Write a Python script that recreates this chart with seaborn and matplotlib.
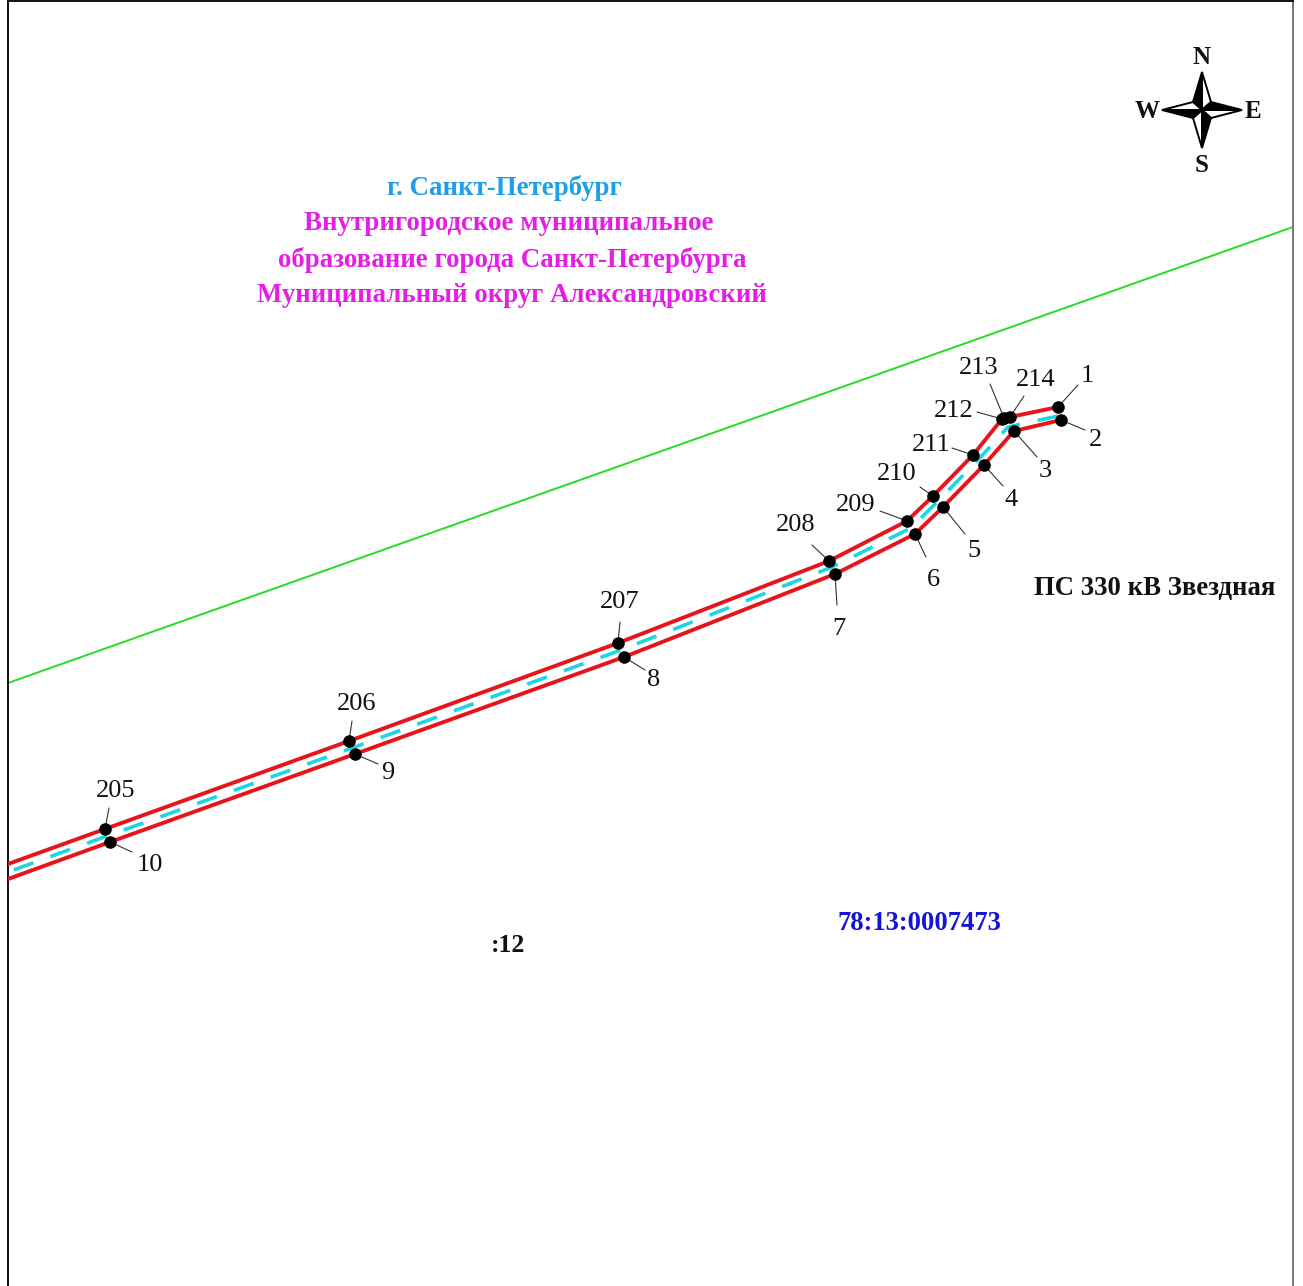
import matplotlib
matplotlib.use("Agg")
import matplotlib.pyplot as plt
import pandas as pd
import seaborn as sns

# ==========================================================
# DATA (picture coordinates, y grows downward)
# ==========================================================
lower_x = [1061, 1014, 984, 943, 915, 835, 624, 355, 110, 8]
lower_y = [420, 431, 465, 507, 534, 574, 657, 754, 842, 879]

upper_x = [1058, 1010, 1004, 1002, 973, 933, 907, 829, 618, 349, 105, 8]
upper_y = [407, 417, 418, 419, 455, 496, 521, 561, 643, 741, 829, 864]

axis_x = [1058, 1008, 978, 938, 911, 832, 621, 352, 107, 8]
axis_y = [416, 427, 460, 501, 528, 567, 650, 748, 836, 872]

boundary_x = [8, 1293]
boundary_y = [683, 227]

label_names = ["1", "2", "3", "4", "5", "6", "7", "8", "9", "10",
               "205", "206", "207", "208", "209", "210", "211", "212", "213", "214"]
label_x = [1087, 1096, 1045, 1011, 974, 933, 839, 654, 388, 150,
           116, 357, 620, 796, 856, 897, 931, 954, 979, 1036]
label_y = [376, 440, 471, 500, 551, 580, 629, 680, 773, 865,
           791, 704, 602, 525, 505, 474, 445, 411, 368, 380]
leader_x = [1078, 1085, 1037, 1003, 965, 926, 837, 645, 378, 132,
            109, 352, 620, 812, 880, 920, 952, 977, 990, 1024]
leader_y = [385, 430, 457, 486, 534, 557, 605, 670, 764, 852,
            808, 721, 622, 545, 511, 487, 448, 412, 384, 396]
point_x = [1058, 1061, 1014, 984, 943, 915, 835, 624, 355, 110,
           105, 349, 618, 829, 907, 933, 973, 1002, 1004, 1010]
point_y = [407, 420, 431, 465, 507, 534, 574, 657, 754, 842,
           829, 741, 643, 561, 521, 496, 455, 419, 418, 417]

# compass arms as (tip, inner corner) pairs around the centre
compass_center = (1202, 110)
arm_tips = [(1202, 72), (1242, 110), (1202, 148), (1162, 110)]
arm_left = [(1193, 102), (1211, 102), (1211, 118), (1193, 118)]
arm_right = [(1211, 102), (1211, 118), (1193, 118), (1193, 102)]

PINK = "#E41FE4"
RED = "#E8141C"
CYAN = "#1FD6E0"
GREEN = "#28DD22"

# ==========================================================
# FIGURE
# ==========================================================
sns.set_style("white")
plt.rcParams["font.family"] = ["Liberation Serif", "DejaVu Serif"]

fig = plt.figure(figsize=(13.03, 12.86), dpi=100)
ax = fig.add_axes([8 / 1303, 0, 1285 / 1303, 1285 / 1286])

lines = pd.DataFrame({"x": lower_x, "y": lower_y})
sns.lineplot(data=lines, x="x", y="y", sort=False, estimator=None, color=RED, lw=2.8, ax=ax, zorder=3)
lines = pd.DataFrame({"x": upper_x, "y": upper_y})
sns.lineplot(data=lines, x="x", y="y", sort=False, estimator=None, color=RED, lw=2.8, ax=ax, zorder=3)
lines = pd.DataFrame({"x": axis_x, "y": axis_y})
sns.lineplot(data=lines, x="x", y="y", sort=False, estimator=None, color=CYAN, lw=2.6, ax=ax, zorder=2,
             linestyle=(0, (5.8, 5.0)))
sns.lineplot(x=boundary_x, y=boundary_y, color=GREEN, lw=1.4, ax=ax, zorder=2)

# leader lines and numbered points
for px, py, lx, ly in zip(point_x, point_y, leader_x, leader_y):
    ax.plot([px, lx], [py, ly], color="#333333", lw=0.8, zorder=4)
sns.scatterplot(x=point_x, y=point_y, color="black", s=82, linewidth=0, ax=ax, zorder=5)

for name, lx, ly in zip(label_names, label_x, label_y):
    ax.text(lx, ly, name, fontsize=19, color="#111111", ha="center", va="center")

# compass
cx, cy = compass_center
for i in range(4):
    tip = arm_tips[i]
    ax.fill([cx, tip[0], arm_right[i][0]], [cy, tip[1], arm_right[i][1]],
            facecolor="white", edgecolor="black", lw=1.4, zorder=4)
    ax.fill([cx, arm_left[i][0], tip[0]], [cy, arm_left[i][1], tip[1]],
            facecolor="black", edgecolor="black", lw=1.4, zorder=4)
for letter, lx, ly in [("N", 1202, 58), ("E", 1253, 112), ("S", 1202, 166), ("W", 1147, 111)]:
    ax.text(lx, ly, letter, fontsize=18, fontweight="bold", color="#111111", ha="center", va="center")

# titles
ax.text(504, 188, "г. Санкт-Петербург", fontsize=19.4, fontweight="bold", color="#1F9FEA", ha="center", va="center")
ax.text(509, 224, "Внутригородское муниципальное", fontsize=19.4, fontweight="bold", color=PINK, ha="center", va="center")
ax.text(512, 260, "образование города Санкт-Петербурга", fontsize=19.4, fontweight="bold", color=PINK, ha="center", va="center")
ax.text(512, 295, "Муниципальный округ Александровский", fontsize=19.3, fontweight="bold", color=PINK, ha="center", va="center")
ax.text(1155, 589, "ПС 330 кВ Звездная", fontsize=19.3, fontweight="bold", color="#111111", ha="center", va="center")
ax.text(919, 924, "78:13:0007473", fontsize=19.2, fontweight="bold", color="#1414D8", ha="center", va="center")
ax.text(508, 945, ":12", fontsize=18.5, fontweight="bold", color="#111111", ha="center", va="center")

ax.set_xlim(8, 1293)
ax.set_ylim(1286, 1)
ax.set_xticks([])
ax.set_yticks([])
ax.set_xlabel("")
ax.set_ylabel("")
ax.spines["bottom"].set_visible(False)
ax.spines["left"].set_linewidth(1.4)
ax.spines["top"].set_linewidth(1.4)
ax.spines["left"].set_color("#111111")
ax.spines["top"].set_color("#111111")
ax.spines["right"].set_linewidth(1.4)
ax.spines["right"].set_color("#777777")

fig.savefig("out.png", dpi=100)
